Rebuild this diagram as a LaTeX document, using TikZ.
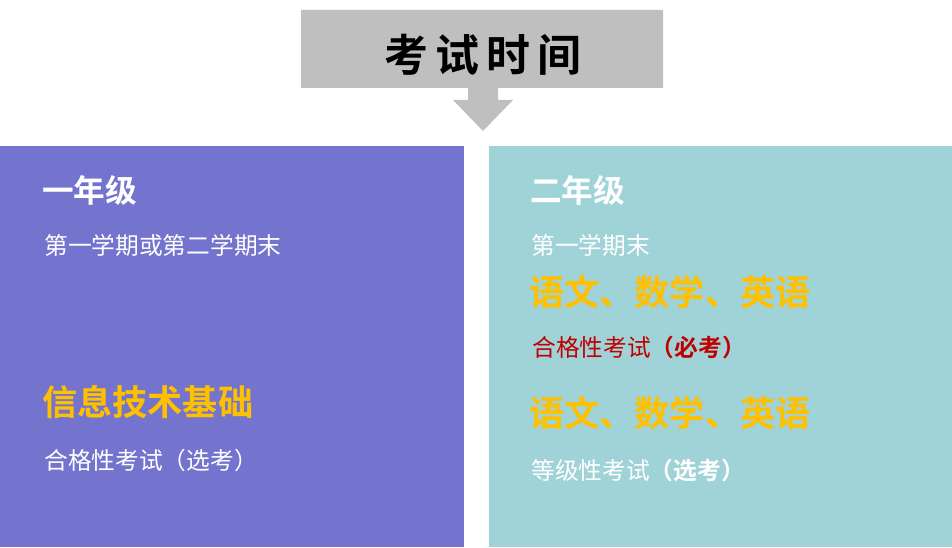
\documentclass[tikz,border=0pt]{standalone}
\usepackage{fontspec}
\newfontfamily\cjk{Noto Sans CJK SC}[BoldFont={Noto Sans CJK SC Bold}]
\definecolor{boxgray}{HTML}{BFBFBF}
\definecolor{leftblue}{HTML}{7474CE}
\definecolor{rightcyan}{HTML}{A0D3D8}
\definecolor{gold}{HTML}{FFC000}
\definecolor{darkred}{HTML}{C00000}
\tikzset{
  txt/.style = {anchor = west, inner sep = 0, font = \cjk\fontsize{13.5}{16}\selectfont},
  grade/.style = {txt, text = white, font = \cjk\bfseries\fontsize{18}{20}\selectfont},
  subject/.style = {txt, text = gold, font = \cjk\bfseries\fontsize{20}{24}\selectfont}
}
\begin{document}
\begin{tikzpicture}[x = 0.02cm, y = -0.02cm]
\useasboundingbox (0,0) rectangle (952,547);
% title callout
\fill[boxgray] (301,10) -- (663,10) -- (663,88) -- (498,88) -- (498,100) -- (513,100)
  -- (483,131) -- (453,100) -- (468,100) -- (468,88) -- (301,88) -- cycle;
\node[font = \cjk\bfseries\fontsize{25}{28}\selectfont] (title) at (483,55) {考\,试\,时\,间};
% columns
\fill[leftblue] (0,146) rectangle (464,547);
\fill[rightcyan] (489,146) rectangle (952,547);
% left column
\node[grade] (g1) at (42,190) {一年级};
\node[txt, text = white] (t1) at (44,245) {第一学期或第二学期末};
\node[subject] (s1) at (42,402) {信息技术基础};
\node[txt, text = white] (e1) at (44,460) {合格性考试（选考）};
% right column
\node[grade] (g2) at (530,190) {二年级};
\node[txt, text = white] (t2) at (531,245) {第一学期末};
\node[subject] (s2) at (529,292) {语文、数学、英语};
\node[txt, text = darkred] (e2) at (532,347) {合格性考试\textbf{（必考）}};
\node[subject] (s3) at (529,413) {语文、数学、英语};
\node[txt, text = white] (e3) at (531,470) {等级性考试\textbf{（选考）}};
\end{tikzpicture}
\end{document}
